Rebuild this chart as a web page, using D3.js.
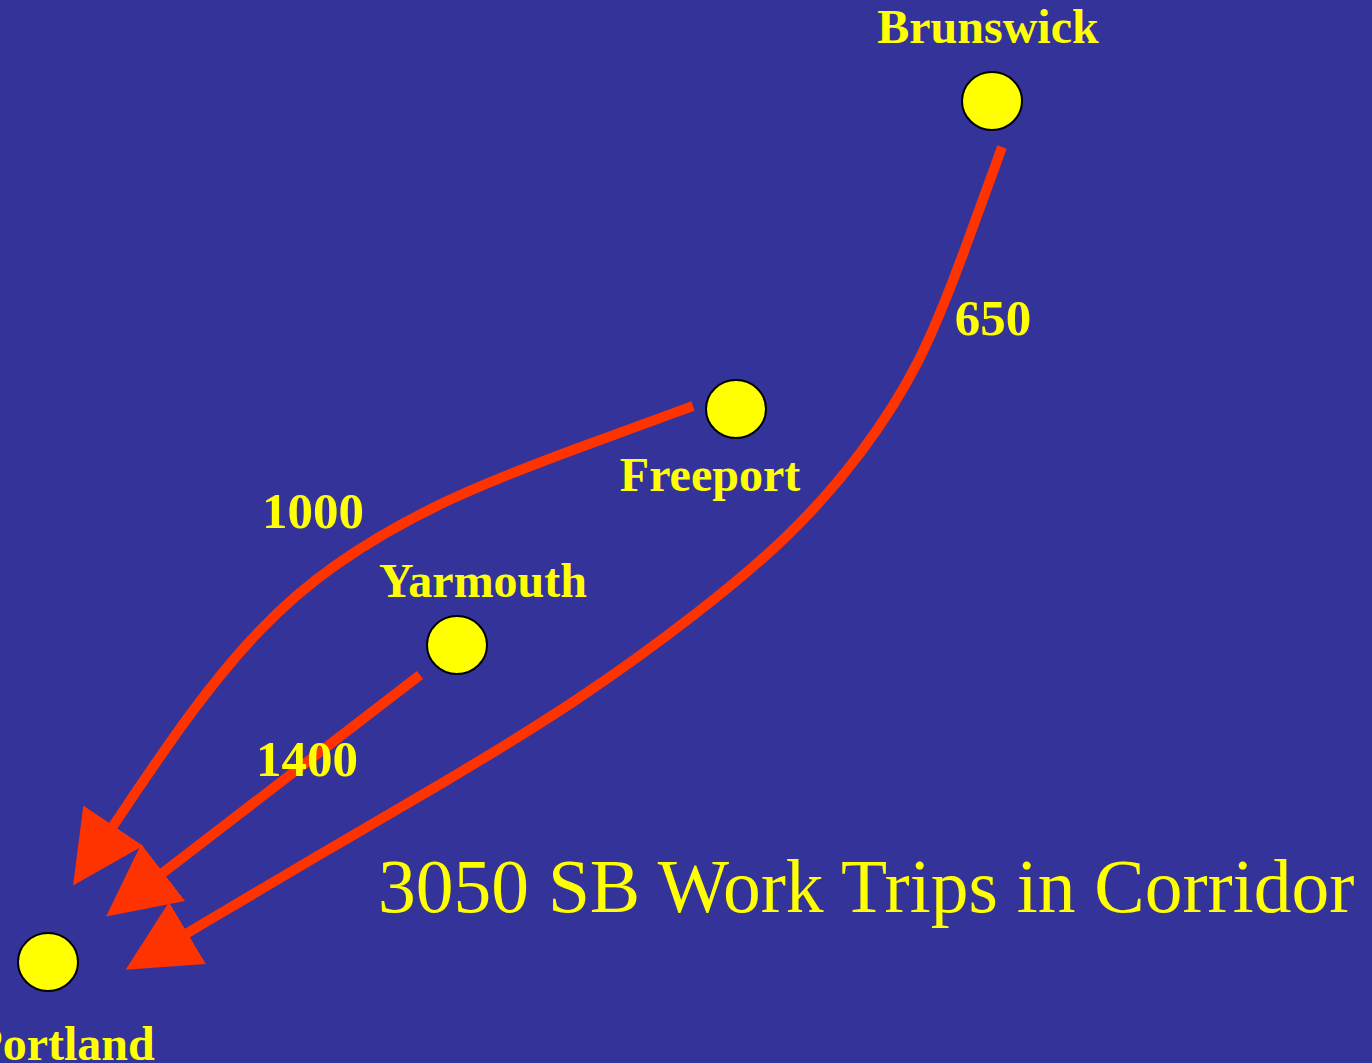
<!DOCTYPE html>
<html>
<head>
<meta charset="utf-8">
<script src="https://cdn.jsdelivr.net/npm/d3@7"></script>
<style>
  html, body { margin: 0; padding: 0; background: #333399; overflow: hidden; }
  svg { display: block; }
</style>
</head>
<body>
<svg id="chart"></svg>
<script>
// towns on the corridor (map grid units)
const towns = ["Brunswick", "Freeport", "Yarmouth", "Portland"];
const townX = [992, 736, 457, 48];
const townY = [101, 409, 645, 962];
const townLabelX = [988, 710, 483, 64];
const townLabelY = [43, 491, 597, 1060];

// southbound work trips to Portland
const flowFrom = ["Brunswick", "Freeport", "Yarmouth"];
const flowTrips = [650, 1000, 1400];
const flowLabelX = [993, 313, 307];
const flowLabelY = [335, 528, 776];

// traced route of each flow line (control points)
const routeBrunswick = [[1002, 147], [962, 258], [922, 362], [862, 455], [790, 537],
  [700, 612], [580, 700], [440, 785], [310, 860], [184, 935]];
const routeFreeport = [[693, 406], [580, 447], [440, 500], [327, 567], [260, 627], [193, 707], [111, 829]];
const routeYarmouth = [[420, 675], [160, 875]];
const routes = [routeBrunswick, routeFreeport, routeYarmouth];

const totalTrips = d3.sum(flowTrips);
const title = `${totalTrips} SB Work Trips in Corridor`;

const width = 1372, height = 1063;
const x = d3.scaleLinear().domain([0, 1372]).range([0, width]);
const y = d3.scaleLinear().domain([0, 1063]).range([0, height]);

const svg = d3.select("#chart").attr("width", width).attr("height", height);

svg.append("rect").attr("width", width).attr("height", height).attr("fill", "#333399");

svg.append("defs").append("marker")
  .attr("id", "head")
  .attr("markerUnits", "userSpaceOnUse")
  .attr("viewBox", "0 -40 80 80")
  .attr("markerWidth", 80)
  .attr("markerHeight", 80)
  .attr("refX", 4)
  .attr("refY", 0)
  .attr("orient", "auto")
  .append("path")
  .attr("d", "M0,-36L72,0L0,36Z")
  .attr("fill", "#ff3300");

const line = d3.line()
  .x(d => x(d[0]))
  .y(d => y(d[1]))
  .curve(d3.curveBasis);

svg.selectAll("path.flow")
  .data(routes)
  .enter().append("path")
  .attr("class", "flow")
  .attr("d", line)
  .attr("fill", "none")
  .attr("stroke", "#ff3300")
  .attr("stroke-width", 10)
  .attr("marker-end", "url(#head)");

svg.selectAll("ellipse.town")
  .data(towns)
  .enter().append("ellipse")
  .attr("class", "town")
  .attr("cx", (d, i) => x(townX[i]))
  .attr("cy", (d, i) => y(townY[i]))
  .attr("rx", 30)
  .attr("ry", 29)
  .attr("fill", "#ffff00")
  .attr("stroke", "#000")
  .attr("stroke-width", 2);

const font = "'Liberation Serif', 'Times New Roman', serif";

svg.selectAll("text.town")
  .data(towns)
  .enter().append("text")
  .attr("class", "town")
  .attr("x", (d, i) => x(townLabelX[i]))
  .attr("y", (d, i) => y(townLabelY[i]))
  .attr("text-anchor", "middle")
  .attr("font-family", font)
  .attr("font-weight", "bold")
  .attr("font-size", 48)
  .attr("fill", "#ffff00")
  .text(d => d);

svg.selectAll("text.trips")
  .data(flowTrips)
  .enter().append("text")
  .attr("class", "trips")
  .attr("x", (d, i) => x(flowLabelX[i]))
  .attr("y", (d, i) => y(flowLabelY[i]))
  .attr("text-anchor", "middle")
  .attr("font-family", font)
  .attr("font-weight", "bold")
  .attr("font-size", 51)
  .attr("fill", "#ffff00")
  .text(d => d);

svg.append("text")
  .attr("x", x(378))
  .attr("y", y(912))
  .attr("font-family", font)
  .attr("font-size", 75.5)
  .attr("fill", "#ffff00")
  .text(title);
</script>
</body>
</html>
